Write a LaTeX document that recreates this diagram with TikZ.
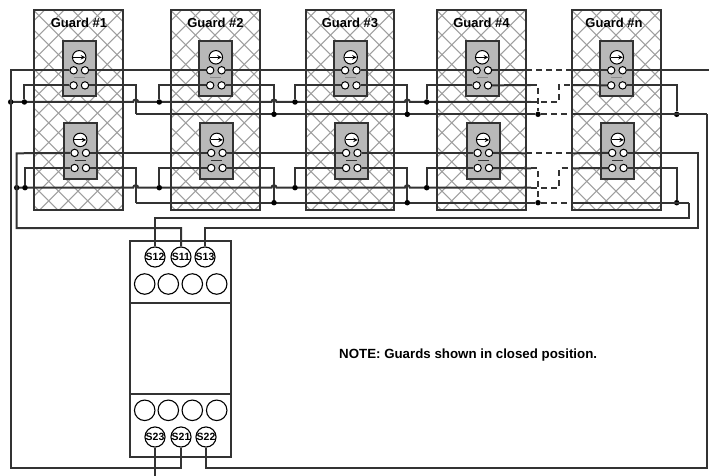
\documentclass[tikz,border=0pt]{standalone}
\usepackage{fontspec}
\setmainfont{Liberation Sans}
\usetikzlibrary{calc}
\def\HatchStep{19.5}
\def\Hump{arc[start angle=180,end angle=360,radius=2.5]}
\tikzset{
  wire/.style={line width=2pt,black!80},
  dashwire/.style={wire,dash pattern=on 6pt off 4pt},
  guardframe/.style={draw=black!80,line width=2pt},
  hatchline/.style={draw=black!38,line width=1.1pt},
  switchbody/.style={draw=black!80,fill=black!28,line width=2pt,minimum width=33pt,minimum height=55.5pt,inner sep=0pt},
  contact/.style={circle,draw=black,fill=white,line width=1pt,minimum size=7.4pt,inner sep=0pt},
  eye/.style={circle,draw=black,fill=white,line width=1pt,minimum size=13.5pt,inner sep=0pt},
  terminal/.style={circle,draw=black,fill=white,line width=1.1pt,minimum size=20pt,inner sep=0pt,font=\bfseries\fontsize{10.5}{11}\selectfont},
  blank/.style={circle,draw=black,line width=1.1pt,minimum size=20.5pt,inner sep=0pt},
  guardlabel/.style={inner sep=0pt,font=\bfseries\fontsize{13}{15}\selectfont},
  barA/.style={black!45,line width=1.5pt},
  barB/.style={black!80,line width=1pt},
  dot/.style={circle,fill=black,minimum size=5.5pt,inner sep=0pt}
}
\begin{document}
\begin{tikzpicture}[x=1pt,y=-1pt]
  \useasboundingbox (0,0) rectangle (709,476);
  % guards
  \foreach \g/\xl/\xr in {1/34/122.5,2/171/260,3/306/394,4/437/526,n/572/661}
    {
      \begin{scope}
        \clip (\xl,10) rectangle (\xr,210);
        \foreach \k in {-12,...,16}
          {
            \draw [hatchline] ($(\xl,10)+(\k*\HatchStep-0.7,0)$) -- +(200,200);
            \draw [hatchline] ($(\xl,10)+(\k*\HatchStep+10.7,0)$) -- +(-200,200);
          }
      \end{scope}
      \draw [guardframe] (\xl,10) rectangle (\xr,210);
    }
  \foreach \g/\cx in {1/79,2/215.5,3/350,4/481.5,n/614}
    \node [guardlabel] (L\g) at (\cx,23.3) {Guard \#\g};
  % switches
  \foreach \row/\top/\shift in {A/40.7/0,B/123.3/1}
    {
      \foreach \g/\cx in {1/79.2,2/215.8,3/350.7,4/482.2,n/616.8}
        {
          \node [switchbody] (S\row\g) at (\cx+\shift,\top+27.75) {};
          \node [eye] (E\row\g) at (\cx+\shift,\top+16.6) {};
          \draw [-stealth,line width=1pt] ($(E\row\g)+(-6,0)$) -- ($(E\row\g)+(6,0)$);
          \node [contact] (S\row\g a) at (\cx+\shift-5.6,\top+29.6) {};
          \node [contact] (S\row\g b) at (\cx+\shift+5.8,\top+29.6) {};
          \node [contact] (S\row\g c) at (\cx+\shift-5.6,\top+44.7) {};
          \node [contact] (S\row\g d) at (\cx+\shift+5.8,\top+44.7) {};
          \draw [bar\row] (\cx+\shift-5.5,\top+37) -- (\cx+\shift+5.5,\top+37);
        }
    }
  % relay
  \draw [wire] (130,241) rectangle (230.7,457.3);
  \draw [wire] (130,303) -- (230.7,303);
  \draw [wire] (130,394) -- (230.7,394);
  \foreach \i/\x in {1/144.7,2/168.3,3/192.3,4/216.7}
    {
      \node [blank] (U\i) at (\x,284) {};
      \node [blank] (D\i) at (\x,410.3) {};
    }
  \node [terminal] (S12) at (155,257) {S12};
  \node [terminal] (S11) at (181,257) {S11};
  \node [terminal] (S13) at (205,257) {S13};
  \node [terminal] (S23) at (155,437) {S23};
  \node [terminal] (S21) at (181,437) {S21};
  \node [terminal] (S22) at (206,437) {S22};
  \node [inner sep=0pt,anchor=west,font=\bfseries\fontsize{13.3}{15}\selectfont] (note) at (339,354.7) {NOTE: Guards shown in closed position.};
  % wiring of both rows
  \foreach \row/\xs/\xt/\xe/\ya/\yb/\yc/\yd in {A/10.7/24.4/707/70.3/85/102/114.3,B/16.7/25/689/153.3/168.3/187.7/202.7}
    {
      \coordinate (start\row) at (\xs,\ya);
      \coordinate (end\row) at (\xe,\yd);
      \draw [wire] (S\row 1b) -- (S\row 2a);
      \draw [wire] (S\row 2b) -- (S\row 3a);
      \draw [wire] (S\row 3b) -- (S\row 4a);
      \draw [wire] (S\row 4b) -- (526,\ya);
      \draw [dashwire] (526,\ya) -- (572,\ya);
      \draw [wire] (572,\ya) -- (S\row na);
      % common line
      \draw [wire] (\xs,\yc) -- (133.2,\yc) \Hump -- (271.5,\yc) \Hump -- (404.8,\yc) \Hump -- (531,\yc);
      \draw [dashwire] (531,\yc) -- (559,\yc) -- (559,\yb) -- (572,\yb);
      \draw [wire] (572,\yb) -- (S\row nc);
      % taps
      \foreach \g/\tap/\turn in {1/\xt/135.7,2/159.3/274,3/295/407.3}
        {
          \node [dot] (T\row\g) at (\tap,\yc) {};
          \coordinate (R\row\g) at (\turn,\yd);
          \draw [wire] (T\row\g) |- (S\row\g c);
          \draw [wire] (S\row\g d) -| (R\row\g);
        }
      \node [dot] (T\row 4) at (426.7,\yc) {};
      \draw [wire] (T\row 4) |- (S\row 4c);
      \draw [wire] (S\row 4d) -- (531,\yb);
      \node [dot] (M\row) at (538,\yd) {};
      \draw [dashwire] (531,\yb) -- (538,\yb) -- (M\row);
      % return line
      \node [dot] (N\row) at (676.7,\yd) {};
      \draw [wire] (R\row 1) -- (M\row);
      \draw [dashwire] (M\row) -- (572,\yd);
      \draw [wire] (572,\yd) -- (end\row);
      \draw [wire] (S\row nd) -| (N\row);
      \node [dot] (C\row) at (\xs,\yc) {};
      \node [dot] (K\row 2) at (274,\yd) {};
      \node [dot] (K\row 3) at (407.3,\yd) {};
    }
  % relay connections
  \coordinate (topright) at (709,70.3);
  \coordinate (bottom) at (155,476);
  \coordinate (cornerA) at (10.7,468);
  \coordinate (cornerB) at (707,468);
  \coordinate (cornerC) at (16.7,228);
  \coordinate (cornerD) at (698,228);
  \coordinate (cornerE) at (689,218);
  \draw [wire] (SAnb) -- (topright);
  \draw [wire] (S21) |- (cornerA) -- (startA) -- (SA1a);
  \draw [wire] (S22) |- (cornerB) -- (endA);
  \draw [wire] (S23) -- (bottom);
  \draw [wire] (S11) |- (cornerC) -- (startB) -- (SB1a);
  \draw [wire] (S13) |- (cornerD) |- (SBnb);
  \draw [wire] (S12) |- (cornerE) -- (endB);
\end{tikzpicture}
\end{document}
